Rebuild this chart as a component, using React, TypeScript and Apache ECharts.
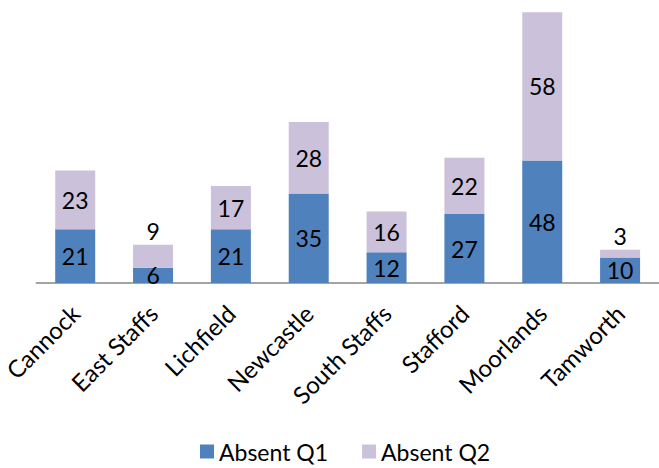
import React, { useEffect, useRef } from "react";
import * as echarts from "echarts";

const categories = ["Cannock", "East Staffs", "Lichfield", "Newcastle", "South Staffs", "Stafford", "Moorlands", "Tamworth"];
const absentQ1 = [21, 6, 21, 35, 12, 27, 48, 10];
const absentQ2 = [23, 9, 17, 28, 16, 22, 58, 3];
const seriesNames = ["Absent Q1", "Absent Q2"];

const FONT = "Lato, 'Open Sans', sans-serif";

export default function App() {
  const ref = useRef<HTMLDivElement>(null);
  useEffect(() => {
    if (!ref.current) return;
    const chart = echarts.init(ref.current, undefined, { renderer: "svg" });
    const q2Data = absentQ2.map((v) => ({
      value: v,
      label: { position: v < 10 ? "top" : "inside", distance: 2 },
    }));
    chart.setOption({
      animation: false,
      textStyle: { fontFamily: FONT },
      grid: { left: 36, width: 630, top: 2, bottom: 185 },
      legend: {
        bottom: 0,
        left: 195,
        itemWidth: 14,
        itemHeight: 14,
        itemGap: 34,
        icon: "rect",
        textStyle: { fontSize: 23, color: "#000", fontFamily: FONT },
        data: seriesNames,
      },
      xAxis: {
        type: "category",
        data: categories,
        axisLine: { lineStyle: { color: "#868686", width: 1.5 } },
        axisTick: { show: false },
        axisLabel: { rotate: 45, fontSize: 24, color: "#000", margin: 26, interval: 0, fontFamily: FONT },
      },
      yAxis: {
        type: "value",
        min: 0,
        max: 110,
        show: false,
        splitLine: { show: false },
      },
      series: [
        {
          name: seriesNames[0],
          type: "bar",
          stack: "total",
          barWidth: 40,
          data: absentQ1,
          itemStyle: { color: "#4F81BD" },
          label: { show: true, position: "inside", fontSize: 23, color: "#000", fontFamily: FONT },
        },
        {
          name: seriesNames[1],
          type: "bar",
          stack: "total",
          barWidth: 40,
          data: q2Data,
          itemStyle: { color: "#CCC1DA" },
          label: { show: true, fontSize: 23, color: "#000", fontFamily: FONT },
        },
      ],
    });
    return () => chart.dispose();
  }, []);
  return <div ref={ref} style={{ width: 659, height: 468, position: "absolute", left: 0, top: 0 }} />;
}
